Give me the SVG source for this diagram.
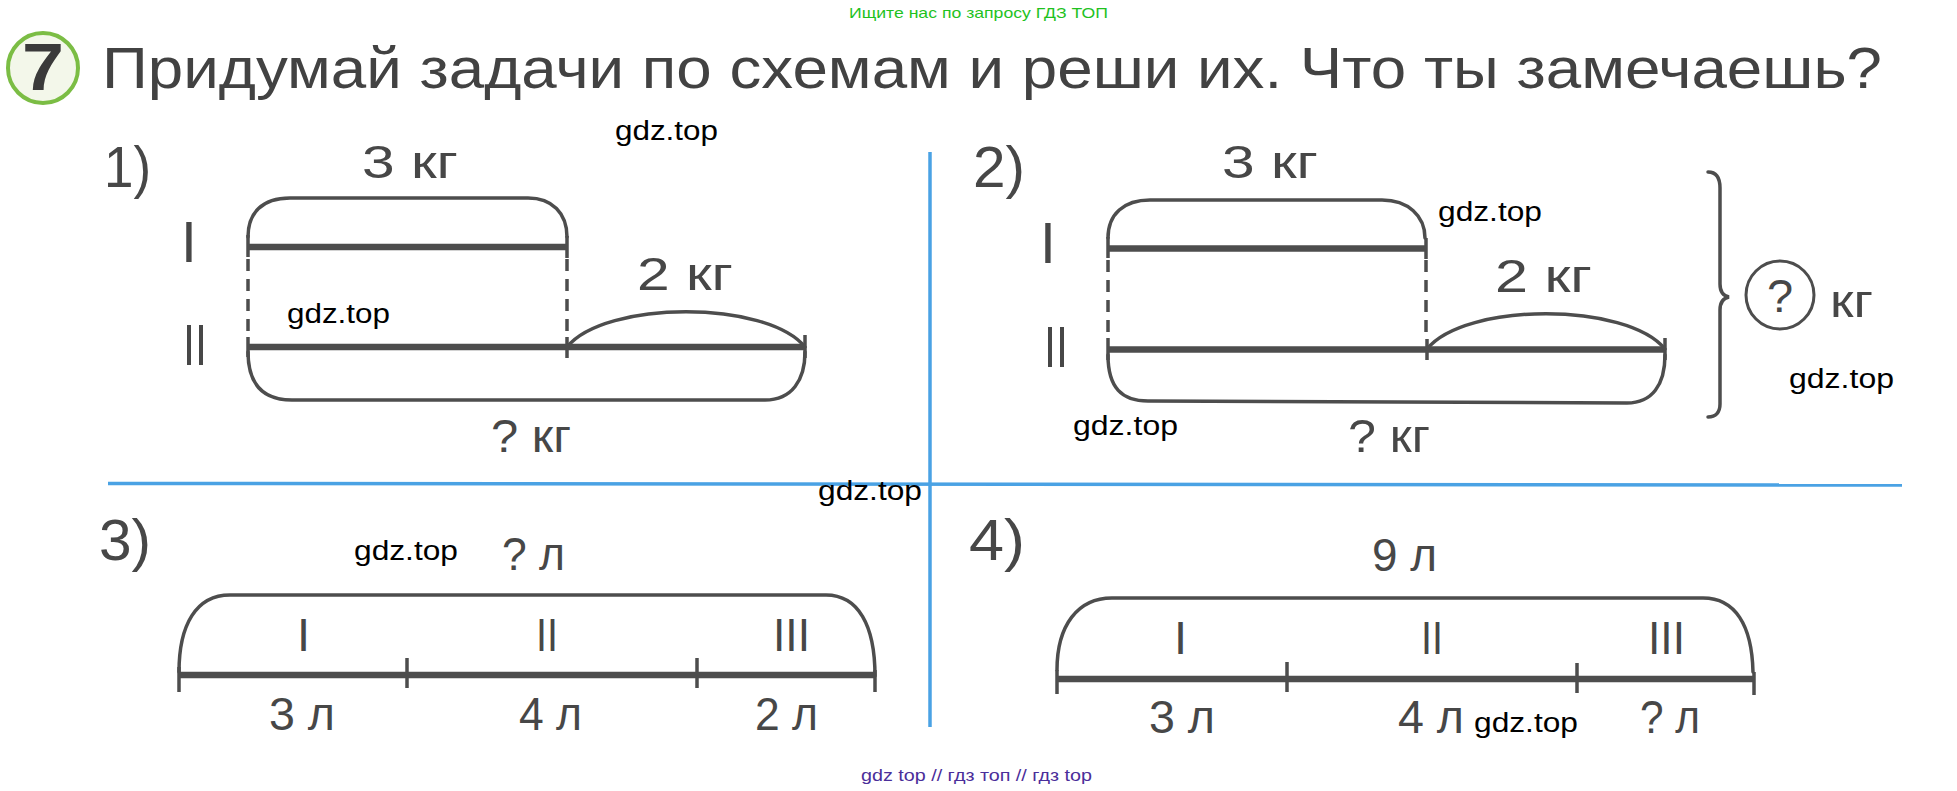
<svg xmlns="http://www.w3.org/2000/svg" width="1957" height="791" viewBox="0 0 1957 791">
<style>
text{font-family:"Liberation Sans",Arial,sans-serif}
.t{fill:#424242}
.lbl{fill:#474747;font-size:47px}
.big{fill:#474747;font-size:57px}
.rn{fill:#474747;font-size:57px}
.rn2{fill:#474747;font-size:47px}
.wm{fill:#000;font-size:27px}
.ln{fill:none;stroke:#4d4d4d;stroke-width:3.5;stroke-linecap:round}
.bar{fill:none;stroke:#4d4d4d;stroke-width:6.5}
.tick{fill:none;stroke:#4d4d4d;stroke-width:3.5}
.dash{fill:none;stroke:#4d4d4d;stroke-width:3.5;stroke-dasharray:12 8}
.blue{fill:none;stroke:#4aa2e4;stroke-width:3.5}
</style>
<rect width="1957" height="791" fill="#fff"/>

<g id="header">
  <text x="849" y="18" font-size="15" fill="#1fc21f" textLength="259" lengthAdjust="spacingAndGlyphs">Ищите нас по запросу ГДЗ ТОП</text>
  <circle cx="43" cy="68" r="35" fill="#f3f7ea" stroke="#7bbd44" stroke-width="4"/>
  <text x="22" y="90" font-size="66" font-weight="bold" fill="#3a3a3a" textLength="42" lengthAdjust="spacingAndGlyphs">7</text>
  <text class="t" x="102" y="88" font-size="57" textLength="1780" lengthAdjust="spacingAndGlyphs">Придумай задачи по схемам и реши их. Что ты замечаешь?</text>
</g>

<g id="dividers">
  <path class="blue" d="M930,152 V727"/>
  <path class="blue" d="M108,483.5 L1902,485"/>
</g>

<g id="panel1">
  <text class="big" x="104" y="187" textLength="47" lengthAdjust="spacingAndGlyphs">1)</text>
  <text class="lbl" x="362" y="178" textLength="96" lengthAdjust="spacingAndGlyphs">3 кг</text>
  <text class="rn" x="181" y="262">I</text>
  <text class="rn" x="183" y="365" textLength="24" lengthAdjust="spacingAndGlyphs">II</text>
  <text class="lbl" x="637" y="290" textLength="96" lengthAdjust="spacingAndGlyphs">2 кг</text>
  <text class="lbl" x="491" y="452" textLength="80" lengthAdjust="spacingAndGlyphs">? кг</text>
  <path class="ln" d="M248,237 C248,213 262,198 290,198 L528,198 C552,198 567,213 567,237"/>
  <path class="bar" d="M248,247 H567"/>
  <path class="tick" d="M248,235 V257 M567,236 V258"/>
  <path class="dash" d="M248,259 V337 M567,259 V337"/>
  <path class="bar" d="M248,347 H805"/>
  <path class="tick" d="M248,337 V357 M567,337 V358 M805,335 V358"/>
  <path class="ln" d="M567,347 C605,300 767,300 805,347"/>
  <path class="ln" d="M248,352 C248,383 262,400 292,400 L765,400 C792,400 805,380 805,352"/>
</g>

<g id="panel2">
  <text class="big" x="973" y="187" textLength="52" lengthAdjust="spacingAndGlyphs">2)</text>
  <text class="lbl" x="1222" y="178" textLength="96" lengthAdjust="spacingAndGlyphs">3 кг</text>
  <text class="rn" x="1040" y="263">I</text>
  <text class="rn" x="1044" y="367" textLength="24" lengthAdjust="spacingAndGlyphs">II</text>
  <text class="lbl" x="1495" y="292" textLength="97" lengthAdjust="spacingAndGlyphs">2 кг</text>
  <text class="lbl" x="1348" y="452" textLength="82" lengthAdjust="spacingAndGlyphs">? кг</text>
  <path class="ln" d="M1108,238 C1108,214 1124,200 1150,200 L1382,200 C1408,200 1425,216 1425,238"/>
  <path class="bar" d="M1108,248.5 H1426"/>
  <path class="tick" d="M1108,237 V258 M1426,238 V259"/>
  <path class="dash" d="M1108,260 V339 M1426,260 V339"/>
  <path class="bar" d="M1108,349.5 H1665"/>
  <path class="tick" d="M1108,338 V360 M1427,339 V360 M1665,338 V360"/>
  <path class="ln" d="M1427,349 C1465,302 1627,302 1665,349"/>
  <path class="ln" d="M1108,355 C1108,388 1122,401 1148,401 L1627,403 C1652,403 1665,385 1665,355"/>
  <path class="ln" stroke-width="3" d="M1708,172 C1716,172 1720,178 1720,188 L1720,284 C1720,292 1724,296 1729,297 C1724,298 1720,302 1720,310 L1720,404 C1720,412 1716,417 1708,417"/>
  <circle cx="1780" cy="295" r="34" fill="none" stroke="#4d4d4d" stroke-width="3"/>
  <text class="lbl" x="1780" y="312" font-size="47" text-anchor="middle">?</text>
  <text class="lbl" x="1830" y="317" textLength="43" lengthAdjust="spacingAndGlyphs">кг</text>
</g>

<g id="panel3">
  <text class="big" x="99" y="560" textLength="52" lengthAdjust="spacingAndGlyphs">3)</text>
  <text class="lbl" x="502" y="570" textLength="63" lengthAdjust="spacingAndGlyphs">? л</text>
  <text class="rn2" x="297" y="651">I</text>
  <text class="rn2" x="536" y="651" textLength="22" lengthAdjust="spacingAndGlyphs">II</text>
  <text class="rn2" x="773" y="651" textLength="37" lengthAdjust="spacingAndGlyphs">III</text>
  <text class="lbl" x="269" y="730" textLength="66" lengthAdjust="spacingAndGlyphs">3 л</text>
  <text class="lbl" x="519" y="730" textLength="63" lengthAdjust="spacingAndGlyphs">4 л</text>
  <text class="lbl" x="755" y="730" textLength="63" lengthAdjust="spacingAndGlyphs">2 л</text>
  <path class="ln" d="M179,672 C179,625 196,595 230,595 L826,595 C858,595 875,625 875,676"/>
  <path class="bar" d="M179,675 H875"/>
  <path class="tick" d="M179,667 V692 M407,658 V688 M697,658 V688 M875,670 V692"/>
</g>

<g id="panel4">
  <text class="big" x="969" y="560" textLength="56" lengthAdjust="spacingAndGlyphs">4)</text>
  <text class="lbl" x="1372" y="571" textLength="65" lengthAdjust="spacingAndGlyphs">9 л</text>
  <text class="rn2" x="1174" y="654">I</text>
  <text class="rn2" x="1421" y="654" textLength="22" lengthAdjust="spacingAndGlyphs">II</text>
  <text class="rn2" x="1648" y="654" textLength="37" lengthAdjust="spacingAndGlyphs">III</text>
  <text class="lbl" x="1149" y="733" textLength="66" lengthAdjust="spacingAndGlyphs">3 л</text>
  <text class="lbl" x="1398" y="733" textLength="66" lengthAdjust="spacingAndGlyphs">4 л</text>
  <text class="lbl" x="1640" y="733" textLength="60" lengthAdjust="spacingAndGlyphs">? л</text>
  <path class="ln" d="M1057,670 C1057,625 1078,598 1112,598 L1703,598 C1735,598 1752,625 1753,672"/>
  <path class="bar" d="M1057,679 H1754"/>
  <path class="tick" d="M1057,670 V694 M1287,662 V692 M1577,663 V693 M1754,672 V695"/>
</g>

<g id="watermarks">
  <text class="wm" x="615" y="140" textLength="103" lengthAdjust="spacingAndGlyphs">gdz.top</text>
  <text class="wm" x="287" y="323" textLength="103" lengthAdjust="spacingAndGlyphs">gdz.top</text>
  <text class="wm" x="1438" y="221" textLength="104" lengthAdjust="spacingAndGlyphs">gdz.top</text>
  <text class="wm" x="1073" y="435" textLength="105" lengthAdjust="spacingAndGlyphs">gdz.top</text>
  <text class="wm" x="1789" y="388" textLength="105" lengthAdjust="spacingAndGlyphs">gdz.top</text>
  <text class="wm" x="818" y="500" textLength="104" lengthAdjust="spacingAndGlyphs">gdz.top</text>
  <text class="wm" x="354" y="560" textLength="104" lengthAdjust="spacingAndGlyphs">gdz.top</text>
  <text class="wm" x="1474" y="732" textLength="104" lengthAdjust="spacingAndGlyphs">gdz.top</text>
  <text x="861" y="781" font-size="16" fill="#4b2e9a" textLength="231" lengthAdjust="spacingAndGlyphs">gdz top  //  гдз топ  //  гдз top</text>
</g>
</svg>
